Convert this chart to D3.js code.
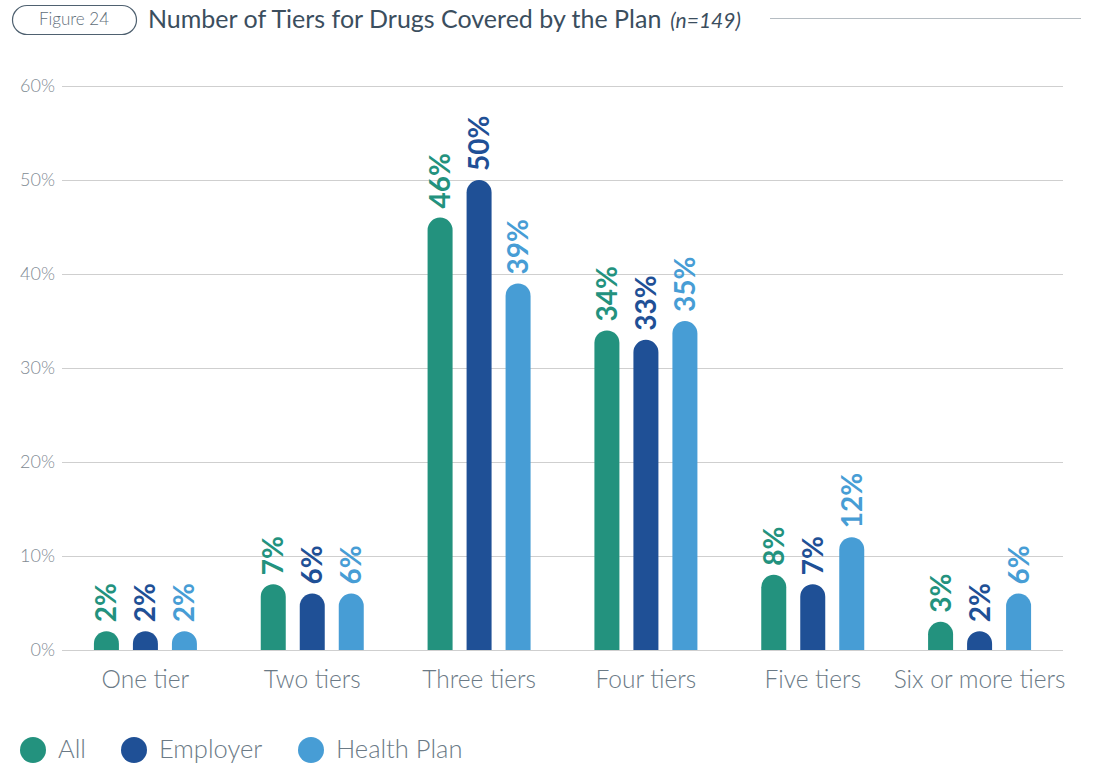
<!DOCTYPE html>
<html><head><meta charset="utf-8">
<script src="https://cdn.jsdelivr.net/npm/d3@7"></script>
<style>body{margin:0;background:#fff;}svg{display:block;font-family:"Lato","Open Sans",sans-serif;}</style>
</head><body>
<svg id="c" width="1096" height="764"></svg>
<script>
const categories = ["One tier","Two tiers","Three tiers","Four tiers","Five tiers","Six or more tiers"];
const seriesNames = ["All","Employer","Health Plan"];
const allValues = [2,7,46,34,8,3];
const employerValues = [2,6,50,33,7,2];
const healthPlanValues = [2,6,39,35,12,6];
const yTicks = [0,10,20,30,40,50,60];
const colors = ["#23927e","#1f5096","#479dd5"];
const seriesValues = [allValues, employerValues, healthPlanValues];

const svg = d3.select("#c");
const pLeft = 62, pRight = 1063, pTop = 86, pBottom = 650;
const x = d3.scaleBand().domain(categories).range([pLeft, pRight]).padding(0);
const y = d3.scaleLinear().domain([0,60]).range([pBottom, pTop]);
const barW = 25, step = 39;

// Header
svg.append("rect").attr("x",12.5).attr("y",5.5).attr("width",124).attr("height",29).attr("rx",14.5)
  .attr("fill","none").attr("stroke","#4f6170").attr("stroke-width",1.2);
svg.append("text").attr("x",74).attr("y",25).attr("text-anchor","middle").attr("font-size",17)
  .attr("fill","#5f6e7a").attr("font-weight",300).text("Figure 24");
const title = svg.append("text").attr("x",148).attr("y",28).attr("font-size",25).attr("fill","#3b4e5e");
title.append("tspan").text("Number of Tiers for Drugs Covered by the Plan");
title.append("tspan").attr("dx",9).attr("font-style","italic").attr("font-size",21).text("(n=149)");
svg.append("line").attr("x1",770).attr("x2",1081).attr("y1",18.5).attr("y2",18.5).attr("stroke","#b5bcc2").attr("stroke-width",1.2);

// Grid
svg.append("g").selectAll("line").data(yTicks).join("line")
  .attr("x1",pLeft).attr("x2",pRight).attr("y1",d=>Math.round(y(d))+0.5).attr("y2",d=>Math.round(y(d))+0.5)
  .attr("stroke","#cfcfcf").attr("stroke-width",1.2);
svg.append("g").selectAll("text").data(yTicks).join("text")
  .attr("x",55).attr("y",d=>y(d)+6).attr("text-anchor","end").attr("font-size",18)
  .attr("fill","#7f8a93").attr("font-weight",300).text(d=>d+"%");

// Bars
function barPath(x0, w, yTop, yBot){
  const r = w/2;
  const h = yBot - yTop;
  if (h <= r) {
    return `M${x0},${yBot} A${r},${h} 0 0 1 ${x0+w},${yBot} Z`;
  }
  return `M${x0},${yBot} L${x0},${yTop+r} A${r},${r} 0 0 1 ${x0+w},${yTop+r} L${x0+w},${yBot} Z`;
}
seriesValues.forEach((vals, si) => {
  const g = svg.append("g");
  categories.forEach((c, ci) => {
    const cx = x(c) + x.bandwidth()/2 + (si-1)*step;
    const v = vals[ci];
    g.append("path").attr("d", barPath(cx-barW/2, barW, y(v), y(0))).attr("fill", colors[si]);
    g.append("text").attr("transform",`translate(${cx+10},${y(v)-9}) rotate(-90)`)
      .attr("font-size",28).attr("font-weight",700).attr("fill",colors[si]).text(v+"%");
  });
});

// Category labels
svg.append("g").selectAll("text").data(categories).join("text")
  .attr("x",d=>x(d)+x.bandwidth()/2).attr("y",688).attr("text-anchor","middle")
  .attr("font-size",24.5).attr("font-weight",300).attr("fill","#6b7a86").text(d=>d);

// Legend
const legX = [33, 134, 311];
seriesNames.forEach((n,i)=>{
  svg.append("circle").attr("cx",legX[i]).attr("cy",750).attr("r",13).attr("fill",colors[i]);
  svg.append("text").attr("x",legX[i]+25).attr("y",758).attr("font-size",25.5).attr("font-weight",300)
    .attr("fill","#6b7a86").text(n);
});
</script>
</body></html>
